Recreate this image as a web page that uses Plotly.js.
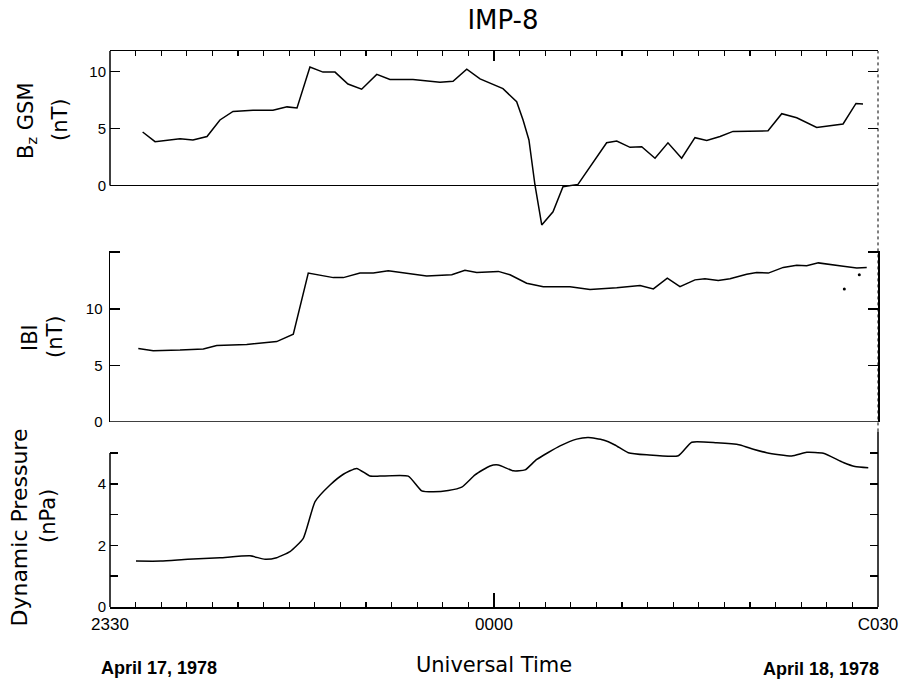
<!DOCTYPE html>
<html>
<head>
<meta charset="utf-8">
<script src="https://cdn.plot.ly/plotly-3.0.1.min.js"></script>
<style>html,body{margin:0;padding:0;background:#fff;}#chart{width:899px;height:682px;}</style>
</head>
<body>
<div id="chart"></div>
<script>
// Time in minutes relative to 0000 UT (April 18, 1978)
const bzMinutes = [-27.45, -26.48, -24.53, -23.52, -22.42, -21.41, -20.39, -18.83, -17.27, -16.17, -15.39, -14.38, -13.36, -12.42, -11.41, -10.34, -9.16, -8.13, -6.33, -4.22, -3.20, -2.13, -1.09, -0.31, 0.70, 1.77, 2.27, 2.73, 3.20, 3.73, 4.61, 5.39, 6.56, 8.80, 9.59, 10.63, 11.54, 12.58, 13.59, 14.66, 15.70, 16.62, 17.66, 18.67, 21.41, 22.48, 23.65, 25.21, 27.27, 28.28, 28.83];
const bzValues = [4.7, 3.85, 4.1, 4.0, 4.3, 5.75, 6.5, 6.6, 6.6, 6.9, 6.8, 10.4, 9.95, 9.95, 8.9, 8.45, 9.75, 9.3, 9.3, 9.05, 9.15, 10.2, 9.35, 8.95, 8.5, 7.35, 5.75, 4.0, 0.05, -3.45, -2.3, -0.1, 0.1, 3.75, 3.9, 3.35, 3.4, 2.4, 3.75, 2.4, 4.2, 3.95, 4.3, 4.75, 4.8, 6.3, 5.95, 5.1, 5.4, 7.2, 7.15];

const bMinutes = [-27.79, -26.62, -24.53, -22.71, -21.66, -19.32, -16.98, -15.68, -14.51, -12.55, -11.77, -10.47, -9.43, -8.26, -5.26, -3.30, -2.27, -1.35, 0.34, 1.25, 2.55, 3.85, 5.94, 7.50, 9.59, 11.41, 12.45, 13.54, 14.53, 15.70, 16.48, 17.52, 18.44, 19.74, 20.52, 21.43, 22.60, 23.65, 24.43, 25.34, 27.29, 28.34, 29.12];
const bValues = [6.5, 6.3, 6.35, 6.45, 6.75, 6.85, 7.1, 7.75, 13.15, 12.75, 12.75, 13.15, 13.15, 13.35, 12.9, 13.0, 13.4, 13.2, 13.3, 13.0, 12.25, 11.95, 11.95, 11.7, 11.85, 12.05, 11.75, 12.7, 11.95, 12.55, 12.65, 12.5, 12.65, 13.05, 13.2, 13.15, 13.65, 13.85, 13.8, 14.05, 13.75, 13.6, 13.65];
const bDotMinutes = [27.37, 28.54];
const bDotValues = [11.75, 13.0];

const pMinutes = [-27.97, -26.02, -23.93, -21.41, -19.06, -17.89, -16.98, -15.94, -14.90, -13.98, -12.81, -11.77, -10.73, -9.69, -8.91, -6.70, -5.65, -4.74, -3.57, -2.52, -1.48, -0.31, 0.34, 1.51, 2.42, 3.34, 5.16, 6.46, 7.37, 8.54, 9.45, 10.49, 11.93, 14.40, 15.45, 17.40, 19.22, 20.26, 21.30, 23.26, 24.43, 25.73, 27.29, 28.20, 29.24];
const pValues = [1.49, 1.49, 1.55, 1.6, 1.66, 1.55, 1.6, 1.8, 2.23, 3.42, 3.96, 4.31, 4.50, 4.25, 4.25, 4.25, 3.77, 3.74, 3.78, 3.89, 4.29, 4.58, 4.61, 4.42, 4.45, 4.79, 5.23, 5.45, 5.50, 5.42, 5.26, 5.01, 4.94, 4.91, 5.35, 5.33, 5.26, 5.12, 5.01, 4.90, 5.02, 4.99, 4.69, 4.56, 4.52];

const xTickVals = [-30, 0, 30];
const xTickText = ['2330', '0000', 'C030'];
const xTenMinuteTicks = [-20, -10, 10, 20];
const bzTickVals = [0, 5, 10];
const bzTickText = ['0', '5', '10'];
const bTickVals = [0, 5, 10];
const bTickText = ['0', '5', '10'];
const pTickVals = [0, 2, 4];
const pTickText = ['0', '2', '4'];

const lineStyle = {color: '#000', width: 1.5};
const traces = [
  {x: bzMinutes, y: bzValues, xaxis: 'x2', yaxis: 'y', mode: 'lines', line: lineStyle, name: 'Bz GSM', showlegend: false},
  {x: bMinutes, y: bValues, xaxis: 'x', yaxis: 'y2', mode: 'lines', line: lineStyle, name: '|B|', showlegend: false},
  {x: bDotMinutes, y: bDotValues, xaxis: 'x', yaxis: 'y2', mode: 'markers', marker: {color: '#000', size: 3}, name: '|B| points', showlegend: false},
  {x: pMinutes, y: pValues, xaxis: 'x', yaxis: 'y3', mode: 'lines', line: {color: '#000', width: 1.5, shape: 'spline', smoothing: 0.5}, name: 'Dynamic Pressure', showlegend: false}
];

const tickFontX = {family: 'Liberation Sans, Arial, sans-serif', size: 17, color: '#000'};
const tickFontY = {family: 'Liberation Sans, Arial, sans-serif', size: 15, color: '#000'};
const titleFont = {family: 'DejaVu Sans, sans-serif', size: 21, color: '#000'};
const dateFont = {family: 'Liberation Sans, Arial, sans-serif', size: 18, color: '#000'};

const commonX = {
  range: [-30, 30], showgrid: false, zeroline: false,
  showline: true, linecolor: '#000', linewidth: 1.5,
  ticks: 'inside', ticklen: 14, tickwidth: 1.5, tickcolor: '#000',
  tickmode: 'array', tickvals: xTickVals,
  minor: {tickmode: 'linear', tick0: -30, dtick: 2, ticks: 'inside', ticklen: 5, tickwidth: 1.2, tickcolor: '#000', showgrid: false}
};
const tenMinX = {
  range: [-30, 30], matches: 'x', showgrid: false, zeroline: false, showline: false,
  ticks: 'inside', ticklen: 10, tickwidth: 1.5, tickcolor: '#000',
  tickmode: 'array', tickvals: xTenMinuteTicks, showticklabels: false
};

const layout = {
  width: 899, height: 682,
  margin: {l: 110, r: 21, t: 51, b: 75},
  paper_bgcolor: '#fff', plot_bgcolor: '#fff',
  showlegend: false,
  title: {text: 'IMP-8', x: 0.5595, xref: 'container', xanchor: 'center', y: 0.9707, yref: 'container', yanchor: 'middle',
          font: {family: 'DejaVu Sans, sans-serif', size: 26, color: '#000'}},
  xaxis: Object.assign({}, commonX, {
    domain: [0, 1], anchor: 'y3', ticktext: xTickText, showticklabels: true,
    tickfont: tickFontX, ticklabelstandoff: 1,
    title: {text: 'Universal Time', font: titleFont, standoff: 24}
  }),
  xaxis2: Object.assign({}, commonX, {
    domain: [0, 1], anchor: 'y', side: 'top', matches: 'x', showticklabels: false, ticktext: xTickText, ticklen: 10
  }),
  xaxis3: Object.assign({}, tenMinX, {overlaying: 'x', anchor: 'y3', side: 'bottom'}),
  xaxis4: Object.assign({}, tenMinX, {overlaying: 'x2', anchor: 'y', side: 'top', ticklen: 8}),
  yaxis: {
    domain: [0.6745, 1], range: [-4.07, 11.8], anchor: 'x2',
    showgrid: false, showline: false,
    zeroline: true, zerolinecolor: '#000', zerolinewidth: 1.5,
    ticks: 'inside', ticklen: 10, tickwidth: 1.5, tickcolor: '#000', mirror: 'ticks',
    tickmode: 'array', tickvals: bzTickVals, ticktext: bzTickText,
    tickfont: tickFontY, ticklabelstandoff: 3
  },
  yaxis2: {
    domain: [0.3327, 0.6403], range: [0, 15.1], anchor: 'x',
    showgrid: false, zeroline: false,
    showline: true, linecolor: '#000', linewidth: 1.5, mirror: 'ticks',
    ticks: 'inside', ticklen: 10, tickwidth: 1.5, tickcolor: '#000',
    tickmode: 'array', tickvals: bTickVals, ticktext: bTickText,
    minor: {tickmode: 'linear', tick0: 0, dtick: 5, ticks: 'inside', ticklen: 10, tickwidth: 1.5, tickcolor: '#000', showgrid: false},
    tickfont: tickFontY, ticklabelstandoff: 3
  },
  yaxis3: {
    domain: [0, 0.3158], range: [0, 5.7], anchor: 'x',
    showgrid: false, zeroline: false,
    showline: false, mirror: 'ticks',
    ticks: 'inside', ticklen: 8, tickwidth: 1.5, tickcolor: '#000',
    tickmode: 'array', tickvals: pTickVals, ticktext: pTickText,
    minor: {tickmode: 'linear', tick0: 0, dtick: 1, ticks: 'inside', ticklen: 8, tickwidth: 1.5, tickcolor: '#000', showgrid: false},
    tickfont: tickFontY, ticklabelstandoff: 3
  },
  shapes: [
    {type: 'line', xref: 'paper', yref: 'y', x0: 0, x1: 0, y0: 0, y1: 11.8, line: {color: '#000', width: 1.5}},
    {type: 'line', xref: 'paper', yref: 'y3', x0: 0, x1: 0, y0: 0, y1: 5, line: {color: '#000', width: 1.5}},
    {type: 'line', xref: 'paper', yref: 'paper', x0: 1, x1: 1, y0: 0.3158, y1: 1, line: {color: '#000', width: 1, dash: 'dot'}},
    {type: 'line', xref: 'paper', yref: 'paper', x0: 1, x1: 1, y0: 0, y1: 0.3158, line: {color: '#000', width: 1.5}},
    {type: 'line', xref: 'paper', yref: 'y2', x0: 0, x1: 1, y0: 0, y1: 0, line: {color: '#000', width: 1.5}}
  ],
  annotations: [
    {text: 'B<sub>z</sub> GSM', xref: 'paper', yref: 'paper', x: -0.1081, y: 0.8759, textangle: -90, showarrow: false, xanchor: 'center', yanchor: 'middle', font: titleFont},
    {text: '(nT)', xref: 'paper', yref: 'paper', x: -0.0651, y: 0.8759, textangle: -90, showarrow: false, xanchor: 'center', yanchor: 'middle', font: titleFont},
    {text: 'IBI', xref: 'paper', yref: 'paper', x: -0.1042, y: 0.4856, textangle: -90, showarrow: false, xanchor: 'center', yanchor: 'middle', font: titleFont},
    {text: '(nT)', xref: 'paper', yref: 'paper', x: -0.0716, y: 0.4856, textangle: -90, showarrow: false, xanchor: 'center', yanchor: 'middle', font: titleFont},
    {text: 'Dynamic Pressure', xref: 'paper', yref: 'paper', x: -0.1178, y: 0.1421, textangle: -90, showarrow: false, xanchor: 'center', yanchor: 'middle', font: {family: 'DejaVu Sans, sans-serif', size: 22, color: '#000'}},
    {text: '(nPa)', xref: 'paper', yref: 'paper', x: -0.0807, y: 0.1637, textangle: -90, showarrow: false, xanchor: 'center', yanchor: 'middle', font: titleFont},
    {text: '<b>April 17, 1978</b>', xref: 'paper', yref: 'paper', x: 0.0638, y: -0.1097, showarrow: false, xanchor: 'center', yanchor: 'middle', font: dateFont},
    {text: '<b>April 18, 1978</b>', xref: 'paper', yref: 'paper', x: 0.9258, y: -0.1115, showarrow: false, xanchor: 'center', yanchor: 'middle', font: dateFont}
  ]
};

Plotly.newPlot('chart', traces, layout, {displayModeBar: false, staticPlot: true}).then(function (gd) {
  // drop empty placeholder text nodes that Plotly leaves behind
  gd.querySelectorAll('text').forEach(function (t) {
    if (!t.textContent || !t.textContent.trim()) t.parentNode.removeChild(t);
  });
});
</script>
</body>
</html>
